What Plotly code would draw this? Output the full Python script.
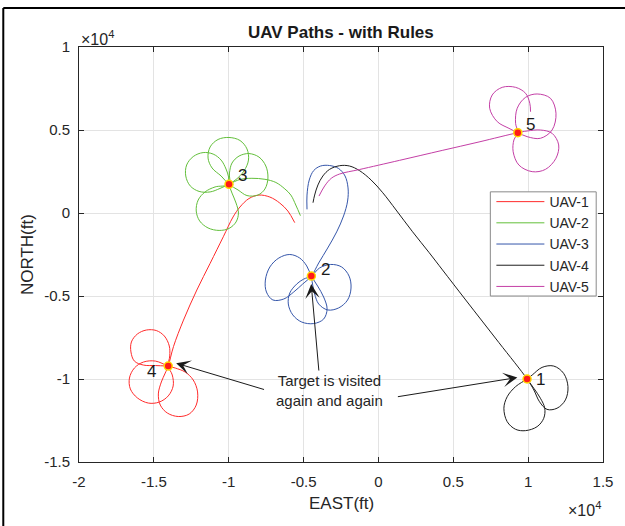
import plotly.graph_objects as go

# ---- target locations (ft) ----
target_ids = ["1", "2", "3", "4", "5"]
target_x = [9930, -4480, -9980, -14040, 9310]
target_y = [-10000, -3800, 1730, -9220, 4840]

# ---- UAV paths (ft): climb-out, transit, then loiter loops over the target ----
uav1_x = [-5590, -6050, -6590, -7250, -7980, -8650, -9250, -9710, -10360, -11240, -12130, -13020, -13690, -14040,
          -14240, -14500, -14700, -14570, -14100, -13370, -12640, -12170, -12080, -12370, -12910, -13570, -14040,
          -14900, -15700, -16300, -16630, -16570, -16100, -15370, -14640, -14040, -13710, -13770, -14040,
          -13940, -13970, -14300, -14840, -15500, -16100, -16500, -16530, -16300, -15700, -14900, -14040]
uav1_y = [-580, 120, 600, 960, 1080, 870, 360, -240, -1430, -3030, -4640, -6450, -8050, -9220,
          -9640, -10180, -10900, -11570, -12050, -12260, -12110, -11570, -10780, -10060, -9580, -9340, -9220,
          -8920, -8980, -9340, -9940, -10600, -11140, -11450, -11390, -11020, -10420, -9760, -9220,
          -8610, -8010, -7410, -7080, -7050, -7290, -7770, -8370, -8920, -9160, -9190, -9220]

uav2_x = [-5210, -5520, -5850, -6250, -6850, -7580, -8450, -9250, -9980,
          -10580, -11240, -11980, -12570, -12870, -12810, -12370, -11710, -11040, -10510, -10180, -10010, -9980,
          -9780, -9510, -9350, -9510, -9980, -10640, -11380, -11940, -12170, -12040, -11580, -10910, -9980,
          -9950, -9780, -9310, -8650, -7980, -7520, -7380, -7580, -8050, -8780, -9380, -9980,
          -10510, -11110, -11380, -11240, -10710, -9980, -9250, -8780, -8680, -8980, -9510, -9980]
uav2_y = [-160, 480, 1080, 1450, 1840, 2030, 2090, 2020, 1730,
          1480, 1270, 1300, 1630, 2230, 2890, 3400, 3640, 3550, 3190, 2650, 2170, 1730,
          1200, 600, 0, -540, -930, -1050, -900, -480, 120, 780, 1270, 1570, 1730,
          2410, 3010, 3430, 3580, 3370, 2830, 2110, 1450, 1080, 1050, 1390, 1730,
          2230, 2710, 3310, 3980, 4430, 4550, 4370, 3860, 3190, 2530, 2020, 1730]

uav3_x = [-4770, -4770, -4620, -4320, -3860, -3260, -2660, -2230, -2030, -2060, -2330, -2790, -3390, -3990, -4480,
          -5060, -5660, -6320, -7050, -7480, -7550, -7250, -6650, -5920, -5260, -4790, -4480,
          -4060, -3660, -3430, -3660, -4320, -5120, -5720, -6020, -5920, -5460, -4990, -4480,
          -3930, -3190, -2460, -1960, -1830, -2060, -2660, -3390, -3990, -4260, -4390, -4480]
uav3_y = [220, 1080, 1990, 2560, 2830, 2860, 2680, 2230, 1510, 720, -180, -1140, -2110, -3010, -3800,
          -4280, -4760, -5180, -5240, -4760, -4040, -3250, -2710, -2500, -2710, -3190, -3800,
          -4400, -5060, -5780, -6390, -6660, -6570, -6140, -5480, -4820, -4280, -3980, -3800,
          -3310, -3100, -3250, -3800, -4520, -5240, -5720, -5840, -5480, -4880, -4340, -3800]

uav4_x = [-4370, -4260, -4040, -3710, -3260, -2590, -1930, -1260, -490, 290, 1180, 2280, 3390, 4280, 5830, 8050, 9930,
          10380, 10760, 11260, 11930, 12490, 12660, 12370, 11710, 10930, 10270, 9930,
          9160, 8600, 8380, 8600, 9160, 9830, 10600, 11040, 11110, 10820, 10380, 9930]
uav4_y = [620, 1080, 1690, 2230, 2630, 2850, 2830, 2550, 1990, 1220, 180, -1130, -2390, -3430, -5240, -7810, -10000,
          -10660, -11370, -11830, -11760, -11260, -10460, -9660, -9220, -9300, -9760, -10000,
          -10460, -11070, -11760, -12570, -13030, -13110, -12870, -12370, -11760, -11160, -10560, -10000]

uav5_x = [-3970, -3590, -3150, -2590, -1260, 1400, 4260, 6720, 9310,
          9930, 10820, 11600, 12040, 11860, 11160, 10270, 9380, 9000, 9050, 9310,
          9160, 9270, 9830, 10600, 11490, 11860, 11600, 10820, 9930, 9310,
          8720, 7940, 7430, 7600, 8270, 9160, 9830, 10110, 10160]
uav5_y = [1020, 1630, 2090, 2350, 2620, 3170, 3770, 4280, 4840,
          4940, 5000, 4800, 4100, 3300, 2630, 2490, 2890, 3690, 4400, 4840,
          5400, 6310, 6970, 7170, 6910, 6010, 5000, 4500, 4600, 4840,
          5100, 5500, 6310, 7110, 7570, 7570, 7210, 6610, 6100]

uav_names = ["UAV-1", "UAV-2", "UAV-3", "UAV-4", "UAV-5"]
uav_colors = ["#ff2b2b", "#62bf3a", "#3556aa", "#1e1e1e", "#c43fa6"]
paths = [(uav1_x, uav1_y), (uav2_x, uav2_y), (uav3_x, uav3_y), (uav4_x, uav4_y), (uav5_x, uav5_y)]

x_ticks = [-20000, -15000, -10000, -5000, 0, 5000, 10000, 15000]
x_tick_text = ["-2", "-1.5", "-1", "-0.5", "0", "0.5", "1", "1.5"]
y_ticks = [-15000, -10000, -5000, 0, 5000, 10000]
y_tick_text = ["-1.5", "-1", "-0.5", "0", "0.5", "1"]

# label offsets (px) for target numbers
label_dx = [13, 14, 13, -17, 13]
label_dy = [0, 7, 9, -5, 8]

# callout arrows: (tip x, tip y, tail x, tail y) in ft
callout = [(-13510, -9050, -7540, -10660),
           (-4490, -4280, -3970, -9580),
           (9280, -9910, 1200, -11080)]

FONT = "Liberation Sans, Arial, Helvetica, sans-serif"
INK = "#262626"

fig = go.Figure()
for (px, py), name, col in zip(paths, uav_names, uav_colors):
    fig.add_trace(go.Scatter(x=px, y=py, mode="lines", name=name,
                             line=dict(color=col, width=1, shape="spline", smoothing=1.0)))

fig.add_trace(go.Scatter(x=target_x, y=target_y, mode="markers", showlegend=False,
                         marker=dict(size=8, color="#ff1a1a",
                                     line=dict(color="#ffd800", width=1.5))))

annotations = []
for tid, tx, ty, dx, dy in zip(target_ids, target_x, target_y, label_dx, label_dy):
    annotations.append(dict(x=tx, y=ty, xref="x", yref="y", text=tid, showarrow=False,
                            xshift=dx, yshift=dy, font=dict(family=FONT, size=17, color="#1a1a1a")))

for tx, ty, sx, sy in callout:
    annotations.append(dict(x=tx, y=ty, ax=sx, ay=sy, xref="x", yref="y", axref="x", ayref="y",
                            text="", showarrow=True, arrowhead=3, arrowsize=2.4, arrowwidth=1,
                            arrowcolor="#1a1a1a", standoff=0))

annotations += [
    dict(x=-3250, y=-10720, xref="x", yref="y", yanchor="middle",
         text="Target is visited<br>again and again",
         showarrow=False, align="center", font=dict(family=FONT, size=15, color=INK)),
    dict(x=0.5, y=1.034, xref="paper", yref="paper", yanchor="middle",
         text="<b>UAV Paths - with Rules</b>",
         showarrow=False, font=dict(family=FONT, size=17, color="#1a1a1a")),
    dict(x=0.0, y=1.022, xref="paper", yref="paper", xanchor="left", yanchor="middle",
         text="\u00d710<sup>4</sup>", showarrow=False, font=dict(family=FONT, size=16, color=INK)),
    dict(x=1.0, y=-0.113, xref="paper", yref="paper", xanchor="right", yanchor="middle",
         text="\u00d710<sup>4</sup>", showarrow=False, font=dict(family=FONT, size=16, color=INK)),
    dict(x=0.5, y=-0.099, xref="paper", yref="paper", yanchor="middle",
         text="EAST(ft)", showarrow=False, font=dict(family=FONT, size=17, color=INK)),
    dict(x=-0.097, y=0.499, xref="paper", yref="paper", xanchor="center", yanchor="middle",
         text="NORTH(ft)", textangle=-90, showarrow=False, font=dict(family=FONT, size=17, color=INK)),
]

axis_common = dict(showline=True, linecolor=INK, linewidth=1, mirror="ticks", ticks="inside",
                   ticklen=5, tickcolor=INK, showgrid=True, gridcolor="#e3e3e3", gridwidth=1,
                   zeroline=False, tickfont=dict(family=FONT, size=15, color=INK))

fig.update_layout(
    width=625, height=526,
    margin=dict(l=79, r=20, t=47, b=64),
    paper_bgcolor="white", plot_bgcolor="white",
    xaxis=dict(range=[-20000, 15000], tickvals=x_ticks, ticktext=x_tick_text,
               ticklabelstandoff=6, **axis_common),
    yaxis=dict(range=[-15000, 10000], tickvals=y_ticks, ticktext=y_tick_text,
               ticklabelstandoff=5, **axis_common),
    legend=dict(x=0.787, y=0.665, xanchor="left", yanchor="top", bgcolor="rgba(0,0,0,0)",
                borderwidth=0, itemwidth=48,
                font=dict(family=FONT, size=14, color=INK), tracegroupgap=0),
    annotations=annotations,
    shapes=[
        # legend frame
        dict(type="rect", xref="paper", yref="paper", x0=0.785, x1=0.987, y0=0.400, y1=0.651,
             fillcolor="white", line=dict(color="#8a8a8a", width=1), layer="above"),
        # outer figure frame
        dict(type="line", xref="paper", yref="paper", x0=-0.1445, x1=-0.1445, y0=1.094, y1=-0.2,
             line=dict(color="black", width=2)),
        dict(type="line", xref="paper", yref="paper", x0=-0.1445, x1=1.1, y0=1.094, y1=1.094,
             line=dict(color="black", width=2)),
    ],
    showlegend=True,
)

fig.write_html("out.html", config={"displayModeBar": False})
